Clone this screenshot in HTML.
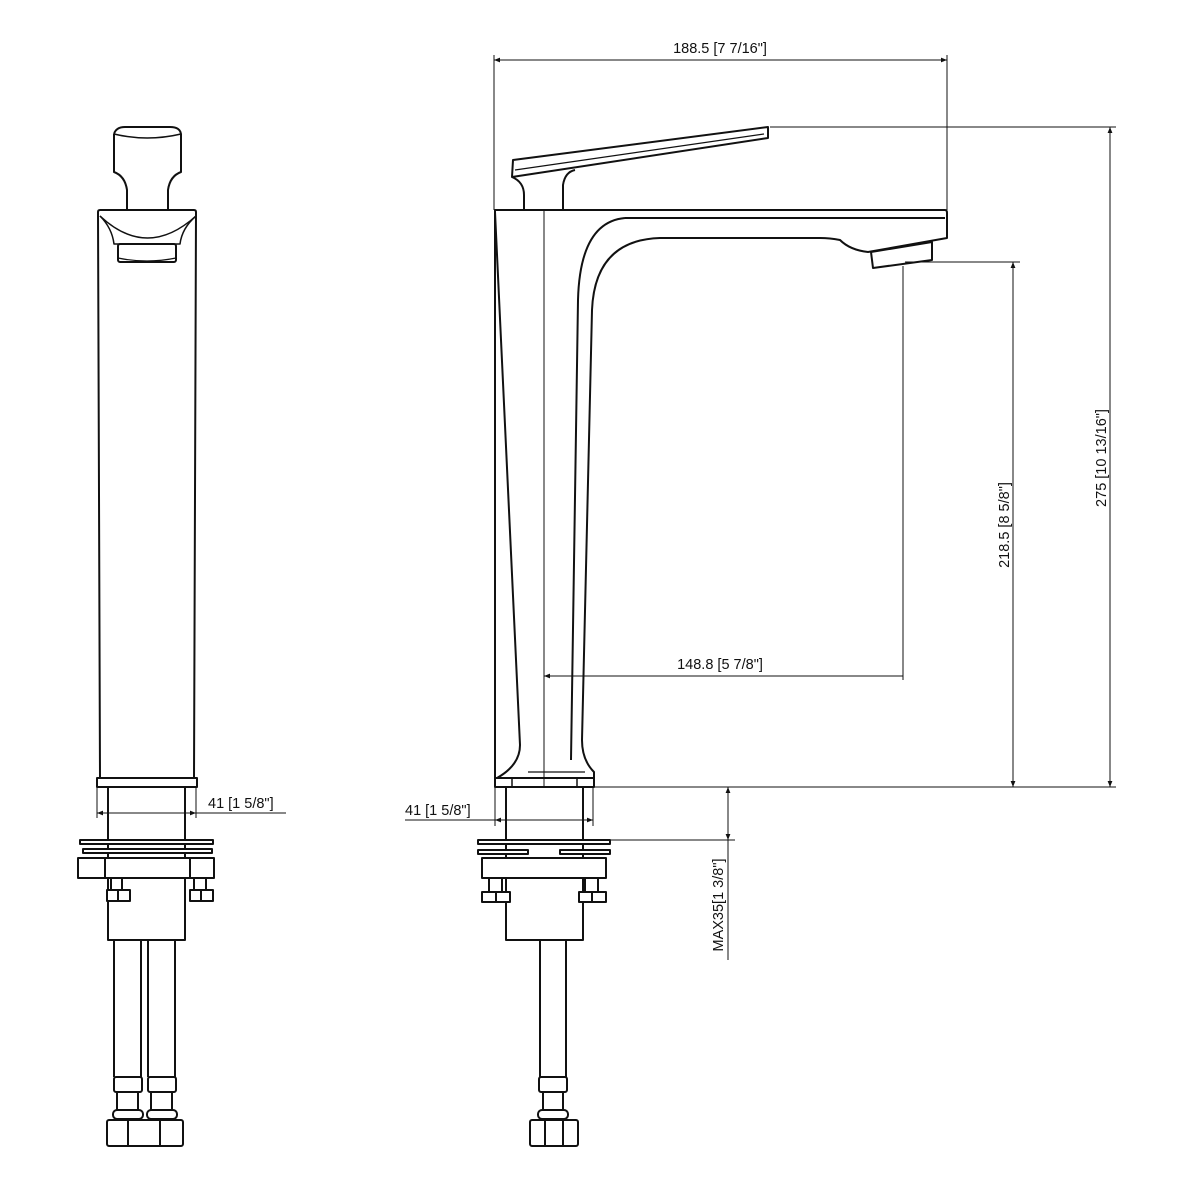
<!DOCTYPE html>
<html><head><meta charset="utf-8"><style>
html,body{margin:0;padding:0;background:#fff}
svg{display:block}
text{font-family:"Liberation Sans",sans-serif;font-size:14.5px;fill:#111}
</style></head><body>
<svg width="1200" height="1200" viewBox="0 0 1200 1200" xmlns="http://www.w3.org/2000/svg">
<defs>
<marker id="a" viewBox="0 0 10 10" refX="10" refY="5" markerWidth="9" markerHeight="6" orient="auto-start-reverse" markerUnits="userSpaceOnUse"><path d="M0,1 L10,5 L0,9 z" fill="#111"/></marker>
</defs>
<g fill="none" stroke="#111" stroke-width="2" stroke-linejoin="round">
<!-- LEFT VIEW -->
<path d="M114,134 Q116,127 125,127 L170,127 Q180,127 181,134 L181,172 Q170,176 168,190 L168,210 M114,134 L114,172 Q125,176 127,190 L127,210"/>
<path d="M114,134 Q147,142 181,134" stroke-width="1.5"/>
<path d="M98,212 Q98,210 100,210 L194,210 Q196,210 196,212 L194,778 L100,778 Z"/>
<path d="M100,216 Q147,260 196,216" stroke-width="1.5"/>
<path d="M100,216 Q112,228 114,244 L180,244 Q182,228 196,216" stroke-width="1.5"/>
<rect x="118" y="244" width="58" height="18" rx="2"/>
<path d="M118,258 Q147,264 176,258" stroke-width="1.2"/>
<rect x="97" y="778" width="100" height="9"/>
<rect x="108" y="787" width="77" height="153"/>
<rect x="80" y="840" width="133" height="4" fill="#fff"/>
<rect x="83" y="849" width="129" height="4" fill="#fff"/>
<rect x="78" y="858" width="136" height="20" fill="#fff"/>
<path d="M105,858 V878 M190,858 V878"/>
<path d="M111,878 V890 M122,878 V890 M194,878 V890 M206,878 V890"/>
<rect x="107" y="890" width="23" height="11" fill="#fff"/><path d="M118,890 V901"/>
<rect x="190" y="890" width="23" height="11" fill="#fff"/><path d="M201,890 V901"/>
<path d="M108,940 H185"/>
<path d="M114,940 V1077 M141,940 V1077 M148,940 V1077 M175,940 V1077"/>
<rect x="114" y="1077" width="28" height="15" rx="2"/><rect x="148" y="1077" width="28" height="15" rx="2"/>
<path d="M117,1092 V1110 M138,1092 V1110 M151,1092 V1110 M172,1092 V1110"/>
<rect x="113" y="1110" width="30" height="9" rx="4"/><rect x="147" y="1110" width="30" height="9" rx="4"/>
<rect x="107" y="1120" width="76" height="26" rx="2"/>
<path d="M128,1120 V1146 M160,1120 V1146"/>
<!-- RIGHT VIEW -->
<path d="M513,160 L768,127 L768,138 L512,177 Z" stroke-width="2"/>
<path d="M515,170 L764,134" stroke-width="1.2"/>
<path d="M512,177 Q524,182 524,195 L524,210 M563,210 L563,185 Q565,172 575,170"/>
<path d="M495,210 L945,210 Q947,210 947,213 L947,238 L868,252 Q850,250 840,240 Q830,238 820,238 L660,238 Q595,240 592,310 L582,740 Q582,760 594,772 L594,778 L495,778 Z" fill="#fff"/>
<path d="M625,218 L945,218"/>
<path d="M625,218 Q580,222 578,300 L571,760"/>
<path d="M495,212 L520,745 Q520,765 497,778" stroke-width="2"/>
<path d="M528,772 L585,772" stroke-width="1.2"/>
<rect x="495" y="778" width="99" height="9" fill="#fff"/>
<path d="M512,778 V787 M577,778 V787" stroke-width="1.5"/>
<path d="M871,252 L932,242 L932,260 L873,268 Z" fill="#fff"/>
<rect x="506" y="787" width="77" height="153" fill="#fff"/>
<rect x="478" y="840" width="132" height="4" fill="#fff"/>
<rect x="478" y="850" width="50" height="4" fill="#fff"/>
<rect x="560" y="850" width="50" height="4" fill="#fff"/>
<rect x="482" y="858" width="124" height="20" fill="#fff"/>
<path d="M489,878 V892 M502,878 V892 M585,878 V892 M598,878 V892"/>
<rect x="482" y="892" width="28" height="10" fill="#fff"/><path d="M496,892 V902"/>
<rect x="579" y="892" width="27" height="10" fill="#fff"/><path d="M592,892 V902"/>
<path d="M540,940 V1077 M566,940 V1077"/>
<rect x="539" y="1077" width="28" height="15" rx="2"/>
<path d="M543,1092 V1110 M563,1092 V1110"/>
<rect x="538" y="1110" width="30" height="9" rx="4"/>
<rect x="530" y="1120" width="48" height="26" rx="2"/>
<path d="M545,1120 V1146 M563,1120 V1146"/>
</g>
<!-- dimensions -->
<g fill="none" stroke="#111" stroke-width="1">
<path d="M544,210 V787"/>
<path d="M494,55 V210 M947,55 V210"/>
<path d="M494,60 H947" marker-start="url(#a)" marker-end="url(#a)"/>
<path d="M770,127 H1116 M594,787 H1116 M905,262 H1020"/>
<path d="M1110,127 V787" marker-start="url(#a)" marker-end="url(#a)"/>
<path d="M1013,262 V787" marker-start="url(#a)" marker-end="url(#a)"/>
<path d="M903,266 V680"/>
<path d="M544,676 H903" marker-start="url(#a)"/>
<path d="M97,787 V818 M196,787 V818"/>
<path d="M97,813 H196" marker-start="url(#a)" marker-end="url(#a)"/>
<path d="M196,813 H286"/>
<path d="M495,787 V826 M593,787 V826"/>
<path d="M495,820 H593" marker-start="url(#a)" marker-end="url(#a)"/>
<path d="M405,820 H495"/>
<path d="M610,840 H735"/>
<path d="M728,787 V840" marker-start="url(#a)" marker-end="url(#a)"/>
<path d="M728,840 V960"/>
</g>
<text x="720" y="53" text-anchor="middle">188.5 [7 7/16"]</text>
<text x="720" y="669" text-anchor="middle">148.8 [5 7/8"]</text>
<text x="208" y="808">41 [1 5/8"]</text>
<text x="405" y="815">41 [1 5/8"]</text>
<text transform="translate(1106,458) rotate(-90)" text-anchor="middle">275 [10 13/16"]</text>
<text transform="translate(1009,525) rotate(-90)" text-anchor="middle">218.5 [8 5/8"]</text>
<text transform="translate(723,905) rotate(-90)" text-anchor="middle">MAX35[1 3/8"]</text>
</svg>
</body></html>
